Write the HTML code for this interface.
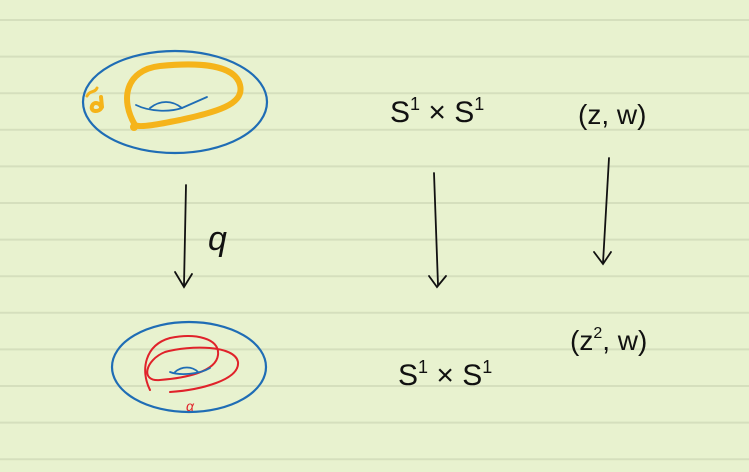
<!DOCTYPE html>
<html><head><meta charset="utf-8"><style>
html,body{margin:0;padding:0;background:#e8f2cf;}
svg{display:block}
text{font-family:"Liberation Sans",sans-serif;fill:#111;}
</style></head><body>
<svg id="page" width="749" height="472" viewBox="0 0 749 472" xmlns="http://www.w3.org/2000/svg">
<rect width="749" height="472" fill="#e8f2cf"/>
<g id="rules" stroke="#d5dfbd" stroke-width="2"></g>

<g fill="none" stroke-linecap="round">
  <ellipse cx="175" cy="102" rx="92" ry="51" stroke="#1f6db5" stroke-width="2.2"/>
  <path d="M135,125 C120,100 125,70 160,66 C200,62 235,65 240,85 C245,105 215,112 180,120 C160,124 140,128 135,125 Z" stroke="#f5b41a" stroke-width="6"/>
  <circle cx="134" cy="127" r="4" fill="#f5b41a" stroke="none"/>
  <path d="M87,96 C90,90 95,93 97,88" stroke="#f5b41a" stroke-width="3"/>
  <path d="M101,97 L102,107 C99,113 90,112 92,106 C94,101 100,103 101,107" stroke="#f5b41a" stroke-width="4"/>
  <path d="M136,105 C150,112 170,112 182,108 L207,97" stroke="#1f6db5" stroke-width="1.8"/>
  <path d="M150,108 C160,100 172,100 182,108" stroke="#1f6db5" stroke-width="1.8"/>
</g>

<g fill="none" stroke="#111" stroke-width="1.8" stroke-linecap="round">
  <path d="M186,185 L184,285"/>
  <path d="M175,272 L184,287 L192,274"/>
</g>
<text x="208" y="250" font-size="34" font-style="italic">q</text>

<g fill="none" stroke-linecap="round">
  <ellipse cx="189" cy="367" rx="77" ry="45" stroke="#1f6db5" stroke-width="2.2"/>
  <path d="M150,390 C140,370 145,345 170,338 C195,333 220,338 218,355 C216,372 185,378 160,380 C140,382 145,360 165,352 C190,345 235,345 238,362 C240,380 200,390 170,392" stroke="#e0222a" stroke-width="2"/>
  <path d="M170,372 C180,376 200,374 210,368" stroke="#1f6db5" stroke-width="1.8"/>
  <path d="M175,372 C182,366 192,366 198,372" stroke="#1f6db5" stroke-width="1.8"/>
</g>
<text x="186" y="411" font-size="14" font-style="italic" style="fill:#e0222a">α</text>

<text x="390" y="122" font-size="30">S<tspan font-size="18" dy="-12">1</tspan><tspan dy="12"> × S</tspan><tspan font-size="18" dy="-12">1</tspan></text>
<g fill="none" stroke="#111" stroke-width="1.8" stroke-linecap="round">
  <path d="M434,173 L438,285"/>
  <path d="M429,276 L437,287 L446,276"/>
</g>
<text x="398" y="385" font-size="30">S<tspan font-size="18" dy="-12">1</tspan><tspan dy="12"> × S</tspan><tspan font-size="18" dy="-12">1</tspan></text>

<text x="578" y="124" font-size="28">(z, w)</text>
<g fill="none" stroke="#111" stroke-width="1.8" stroke-linecap="round">
  <path d="M609,158 L603,263"/>
  <path d="M594,252 L603,264 L611,252"/>
</g>
<text x="570" y="350" font-size="28">(z<tspan font-size="16" dy="-12">2</tspan><tspan dy="12">, w)</tspan></text>
</svg>
<script>
const ruleStart = 20;
const ruleGap = 36.6;
const g = document.getElementById('rules');
for (let y = ruleStart; y < 472; y += ruleGap) {
  const l = document.createElementNS('http://www.w3.org/2000/svg', 'line');
  l.setAttribute('x1', 0); l.setAttribute('x2', 749);
  l.setAttribute('y1', y); l.setAttribute('y2', y);
  
  
  g.appendChild(l);
}
</script>
</body></html>
